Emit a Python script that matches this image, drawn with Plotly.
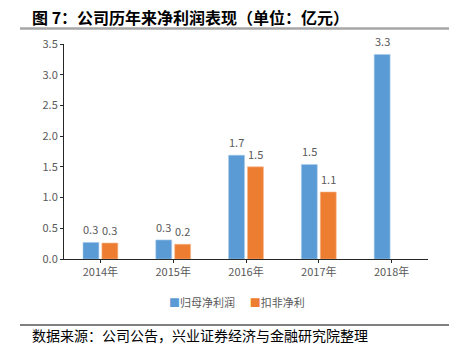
import plotly.graph_objects as go

years = ["2014年", "2015年", "2016年", "2017年", "2018年"]
net_profit = [0.27, 0.31, 1.69, 1.54, 3.33]
deducted_profit = [0.26, 0.24, 1.50, 1.09, None]
y_ticks = [0.0, 0.5, 1.0, 1.5, 2.0, 2.5, 3.0, 3.5]
series_names = ["归母净利润", "扣非净利"]
series_colors = ["#5B9BD5", "#ED7D31"]

FONT = "Noto Sans CJK SC"
L, R, T, B = 64, 21, 44, 97
W, H = 449, 356
pw, ph = W - L - R, H - T - B


def px(x):
    return (x - L) / pw


def py(y):
    return (H - B - y) / ph


fig = go.Figure()
for name, vals, col, edge in [
    (series_names[0], net_profit, series_colors[0], "#A9CBEA"),
    (series_names[1], deducted_profit, series_colors[1], "#F5B58A"),
]:
    fig.add_trace(go.Bar(
        x=years, y=vals, name=name,
        marker=dict(color=col, line=dict(color=edge, width=0.6)),
        showlegend=False, hoverinfo="skip",
    ))

annotations = []
# data labels above each bar
for vals, shift in [(net_profit, -9.5), (deducted_profit, 9.5)]:
    for cat, v in zip(years, vals):
        if v is None:
            continue
        annotations.append(dict(
            x=cat, y=v, xref="x", yref="y", text=f"{v:.1f}", showarrow=False,
            xshift=shift, yshift=13, yanchor="middle",
            font=dict(size=11, color="#595959", family=FONT)))

legend_text = (f'<span style="color:{series_colors[0]}">■</span>{series_names[0]}'
               f'&nbsp;&nbsp;&nbsp;&nbsp;&nbsp;&nbsp;<span style="color:{series_colors[1]}">■</span>{series_names[1]}')
annotations += [
    dict(text=legend_text, xref="paper", yref="paper", x=px(237), y=py(302),
         xanchor="center", yanchor="middle", showarrow=False,
         font=dict(size=11, color="#595959", family=FONT)),
    dict(text="<b>图 7：公司历年来净利润表现（单位：亿元）</b>", xref="paper", yref="paper",
         x=px(30), y=py(17), xanchor="left", yanchor="middle", showarrow=False,
         font=dict(size=16, color="#000000", family=FONT)),
    dict(text="数据来源：公司公告，兴业证券经济与金融研究院整理", xref="paper", yref="paper",
         x=px(30), y=py(335), xanchor="left", yanchor="middle", showarrow=False,
         font=dict(size=14, color="#000000", family=FONT)),
]

fig.update_layout(
    width=W, height=H,
    margin=dict(l=L, r=R, t=T, b=B),
    paper_bgcolor="white", plot_bgcolor="white",
    barmode="group", bargap=0.48, bargroupgap=0.16,
    font=dict(family=FONT, color="#595959", size=11),
    showlegend=False,
    xaxis=dict(showline=True, linecolor="#262626", linewidth=1,
               ticks="outside", ticklen=3, tickcolor="#262626",
               tickfont=dict(size=11, color="#595959"), showgrid=False, zeroline=False),
    yaxis=dict(range=[0, 3.5], tickvals=y_ticks, ticktext=[f"{v:.1f}" for v in y_ticks],
               showline=True, linecolor="#262626", linewidth=1,
               ticks="outside", ticklen=3, tickcolor="#262626",
               tickfont=dict(size=11, color="#595959"), showgrid=False, zeroline=False),
    shapes=[
        dict(type="line", xref="paper", yref="paper", x0=px(20), x1=px(449), y0=py(28.5), y1=py(28.5),
             line=dict(color="#A6A6A6", width=2.5)),
        dict(type="line", xref="paper", yref="paper", x0=px(20), x1=px(449), y0=py(325), y1=py(325),
             line=dict(color="#000000", width=1)),
    ],
    annotations=annotations,
)

fig.write_html("out.html", config={"displayModeBar": False},
               post_script="document.body.style.margin='0';document.body.style.overflow='hidden';")
